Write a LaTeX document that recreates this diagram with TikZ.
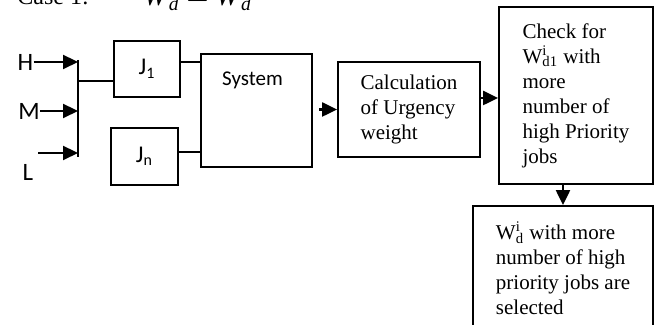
\documentclass[tikz,border=0pt]{standalone}
\usepackage{fontspec}
\setmainfont{Liberation Serif}
\newfontfamily\calibrifont{Carlito}
\usetikzlibrary{arrows.meta}

\begin{document}
\begin{tikzpicture}
[
    x=0.5pt, y=0.5pt,
    box_node/.style={rectangle, draw=black, line width=0.9pt, inner sep=2pt},
    serif_text/.style={align=left, font=\fontsize{10.5}{12.5}\selectfont},
    sans_text/.style={font=\calibrifont\fontsize{10.5}{12.5}\selectfont},
    job_text/.style={font=\calibrifont\fontsize{12}{14}\selectfont},
    level_text/.style={inner sep=0pt, font=\calibrifont\fontsize{12.5}{14}\selectfont},
    plain_line/.style={line width=0.9pt},
    arrow_line/.style={-{Triangle[length=7.5pt, width=7pt]}, line width=1.1pt},
]
    \useasboundingbox (0,0) rectangle (665,325);
    % heading, cut by the top edge
    \node[inner sep=0pt, anchor=base west, font=\fontsize{12}{14}\selectfont] (case) at (17,320) {Case 1:};
    \node[inner sep=0pt, anchor=base west, font=\fontsize{14}{16}\selectfont] (cond) at (143,319) {\textit{W}\textsubscript{\textit{d}} $=$ \textit{W}\textsubscript{\textit{d}}};
    % priority levels
    \node[level_text] (H) at (25.5,263) {H};
    \node[level_text] (M) at (29,214) {M};
    \node[level_text] (L) at (28,153) {L};
    \coordinate (bartop) at (78,265);
    \coordinate (barbot) at (78,168);
    \coordinate (barj) at (78,244);
    \coordinate (ltail) at (38,172);
    % jobs and stages
    \node[box_node, job_text, minimum width=33pt, minimum height=28pt] (J1) at (147,256) {J\textsubscript{1}};
    \node[box_node, job_text, minimum width=33.5pt, minimum height=28.5pt] (Jn) at (144.5,168.5) {J\textsubscript{n}};
    \node[box_node, minimum width=55.5pt, minimum height=56.5pt] (sys) at (256.5,214.5) {};
    \node[sans_text, inner sep=0pt] (systxt) at (252.5,245) {System};
    \node[box_node, serif_text, minimum width=71pt, minimum height=47.5pt] (calc) at (409,215.5) {Calculation\\of Urgency\\weight};
    \node[box_node, serif_text, minimum width=77pt, minimum height=88.5pt] (check) at (576,229.5) {Check for\\W\rlap{\textsuperscript{i}}\textsubscript{d1} with\\more\\number of\\high Priority\\jobs};
    \node[box_node, serif_text, minimum width=90pt, minimum height=62.5pt] (sel) at (563,56.5) {W\rlap{\textsuperscript{i}}\textsubscript{d} with more\\number of high\\priority jobs are\\selected};
    % connectors
    \draw[plain_line] (bartop) -- (barbot);
    \draw[arrow_line] (H.east) -- (H -| bartop);
    \draw[arrow_line] (M.east) -- (M -| bartop);
    \draw[arrow_line] (ltail) -- (ltail -| bartop);
    \draw[plain_line] (barj) -- (barj -| J1.west);
    \draw[plain_line] ([yshift=3.5pt]J1.east) -- ([yshift=3.5pt]J1.east -| sys.west);
    \draw[plain_line] ([yshift=2.25pt]Jn.east) -- ([yshift=2.25pt]Jn.east -| sys.west);
    \draw[arrow_line] ([xshift=3pt]sys.east |- calc.west) -- (calc.west);
    \draw[arrow_line] ([yshift=-1.25pt]calc.east |- check.west) -- ([yshift=-1.25pt]check.west);
    \draw[arrow_line] (check.south -| sel.north) -- (sel.north);
\end{tikzpicture}
\end{document}
